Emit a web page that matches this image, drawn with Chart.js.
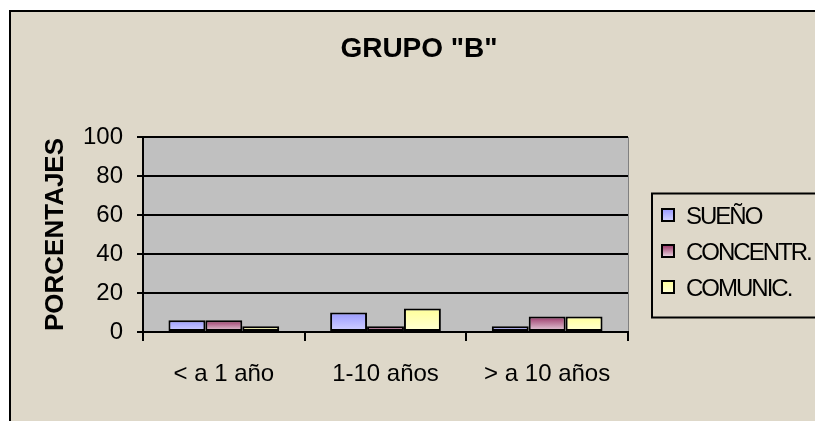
<!DOCTYPE html>
<html>
<head>
<meta charset="utf-8">
<title>Grupo B</title>
<script src="https://cdn.jsdelivr.net/npm/chart.js@4.4.0/dist/chart.umd.min.js"></script>
<style>
  html, body { margin: 0; padding: 0; background: #fff; }
  #wrap { width: 815px; height: 421px; }
</style>
</head>
<body>
<div id="wrap"><canvas id="grupoB" width="815" height="421"></canvas></div>
<script>
const categorias = ['< a 1 año', '1-10 años', '> a 10 años']
const sueno = [6, 10, 3]
const concentr = [6, 3, 8]
const comunic = [3, 12, 8]
const nombres = ['SUEÑO', 'CONCENTR.', 'COMUNIC.']
const yTicks = [0, 20, 40, 60, 80, 100]

const fuente = "'Liberation Sans', Arial, sans-serif"
const fondo = '#DED8C9'
const gris = '#C0C0C0'

// top / bottom colour of each series fill
const degradados = [
    ['#9999FF', '#D4D4FF'],
    ['#993366', '#EBDAE4'],
    ['#FFFF99', '#FFFFD8'],
]

function gradiente(ctx, top, bottom, cols) {
    const g = ctx.createLinearGradient(0, top, 0, bottom)
    g.addColorStop(0, cols[0])
    g.addColorStop(1, cols[1])
    return g
}

// each bar gets its own gradient, from its top down to the zero line
function rellenoBarra(idx) {
    return function(c) {
        const chart = c.chart
        const y = chart.scales && chart.scales.y
        if (!y || c.raw === undefined) return degradados[idx][0]
        const top = y.getPixelForValue(c.raw)
        const base = y.getPixelForValue(0)
        if (!isFinite(top) || !isFinite(base) || top === base) return degradados[idx][0]
        return gradiente(chart.ctx, top, base, degradados[idx])
    }
}

// background, outer frame and plot area
const marco = {
    id: 'marco',
    beforeDraw(chart) {
        const ctx = chart.ctx
        const a = chart.chartArea
        ctx.save()
        ctx.fillStyle = '#fff'
        ctx.fillRect(0, 0, chart.width, chart.height)
        ctx.fillStyle = fondo
        ctx.fillRect(10, 11, chart.width, chart.height)
        ctx.strokeStyle = '#000'
        ctx.lineWidth = 2
        ctx.strokeRect(10, 11, chart.width + 20, chart.height + 20)
        ctx.fillStyle = gris
        ctx.fillRect(a.left, a.top, a.right - a.left, a.bottom - a.top)
        ctx.strokeStyle = '#808080'
        ctx.lineWidth = 1
        ctx.beginPath()
        ctx.moveTo(a.right + 0.5, a.top)
        ctx.lineTo(a.right + 0.5, a.bottom)
        ctx.stroke()
        ctx.restore()
    },
    afterDraw(chart) {
        const ctx = chart.ctx
        ctx.save()
        // title
        ctx.fillStyle = '#000'
        ctx.font = 'bold 28px ' + fuente
        ctx.textAlign = 'center'
        ctx.textBaseline = 'alphabetic'
        ctx.fillText('GRUPO "B"', 419, 57)

        // legend box
        ctx.fillStyle = fondo
        ctx.fillRect(652, 193.5, 200, 124)
        ctx.strokeStyle = '#000'
        ctx.lineWidth = 2
        ctx.strokeRect(652, 193.5, 200, 124)

        ctx.font = '24px ' + fuente
        ctx.textAlign = 'left'
        ctx.letterSpacing = '-2px'
        chart.data.datasets.forEach((ds, i) => {
            const cy = 215 + i * 36
            ctx.fillStyle = gradiente(ctx, cy - 6, cy + 6, degradados[i])
            ctx.fillRect(662, cy - 6, 12, 12)
            ctx.strokeStyle = '#000'
            ctx.lineWidth = 2
            ctx.strokeRect(662, cy - 6, 12, 12)
            ctx.fillStyle = '#000'
            ctx.fillText(ds.label, 686, cy + 8.6)
        })
        ctx.restore()
    }
}

const series = [sueno, concentr, comunic]

new Chart(document.getElementById('grupoB'), {
    type: 'bar',
    data: {
        labels: categorias,
        datasets: series.map((d, i) => ({
            label: nombres[i],
            data: d,
            backgroundColor: rellenoBarra(i),
            borderColor: '#000',
            borderWidth: 2,
            borderSkipped: false,
            categoryPercentage: 0.685,
            barPercentage: 1,
        }))
    },
    options: {
        responsive: false,
        animation: false,
        devicePixelRatio: 1,
        layout: { padding: { top: 137, right: 187, bottom: 0, left: 0 } },
        plugins: {
            legend: { display: false },
            title: { display: false },
            tooltip: { enabled: false },
        },
        scales: {
            x: {
                afterFit: s => { s.height = 89 },
                grid: { drawOnChartArea: false, color: '#000', lineWidth: 2, tickLength: 9, offset: true },
                border: { color: '#000', width: 2 },
                ticks: { color: '#000', font: { family: fuente, size: 24 }, padding: 19, maxRotation: 0 },
            },
            y: {
                min: 0,
                max: 100,
                afterFit: s => { s.width = 143 },
                afterBuildTicks: s => { s.ticks = yTicks.map(v => ({ value: v })) },
                grid: { color: '#000', lineWidth: 2, tickLength: 6 },
                border: { color: '#000', width: 2 },
                ticks: { color: '#000', font: { family: fuente, size: 24 }, padding: 14 },
                title: {
                    display: true,
                    text: 'PORCENTAJES',
                    color: '#000',
                    font: { family: fuente, size: 26, weight: 'bold' },
                    padding: { top: 40, bottom: 0 },
                },
            },
        },
    },
    plugins: [marco],
})
</script>
</body>
</html>
